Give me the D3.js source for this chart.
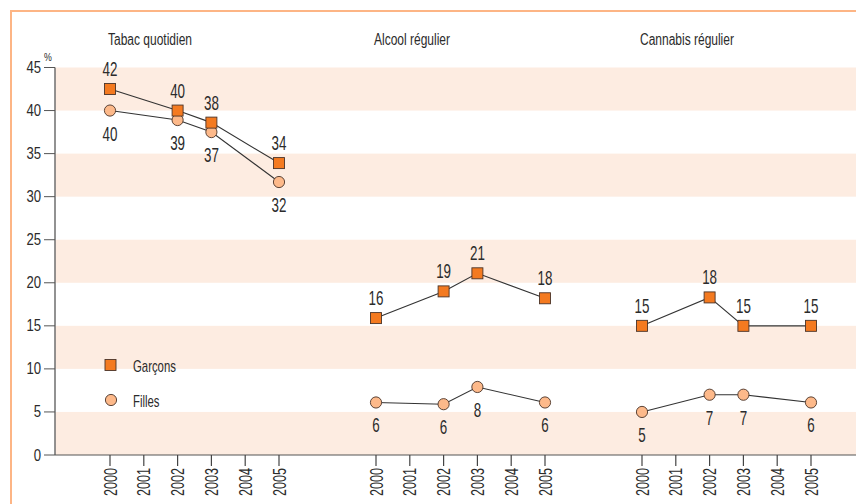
<!DOCTYPE html>
<html><head><meta charset="utf-8">
<script src="https://cdn.jsdelivr.net/npm/d3@7"></script>
<style>
html,body{margin:0;padding:0;background:#fff;}
svg{display:block;}
text{font-family:"Liberation Sans",Arial,sans-serif;fill:#2b2b2b;}
</style></head>
<body>
<svg id="chart" width="856" height="504"></svg>
<script>
const panels = ["Tabac quotidien", "Alcool régulier", "Cannabis régulier"];
const years = [2000, 2001, 2002, 2003, 2004, 2005];
const dataYears = [2000, 2002, 2003, 2005];
const seriesNames = ["Garçons", "Filles"];
const yTicks = [0, 5, 10, 15, 20, 25, 30, 35, 40, 45];

const tabacGarcons = [42.5, 40.0, 38.6, 33.9];
const tabacFilles = [40.0, 38.9, 37.5, 31.7];
const alcoolGarcons = [15.9, 19.0, 21.1, 18.2];
const alcoolFilles = [6.1, 5.9, 7.9, 6.1];
const cannabisGarcons = [15.0, 18.3, 15.0, 15.0];
const cannabisFilles = [5.0, 7.0, 7.0, 6.1];

const tabacGarconsLabels = ["42", "40", "38", "34"];
const tabacFillesLabels = ["40", "39", "37", "32"];
const alcoolGarconsLabels = ["16", "19", "21", "18"];
const alcoolFillesLabels = ["6", "6", "8", "6"];
const cannabisGarconsLabels = ["15", "18", "15", "15"];
const cannabisFillesLabels = ["5", "7", "7", "6"];

const garcons = [tabacGarcons, alcoolGarcons, cannabisGarcons];
const filles = [tabacFilles, alcoolFilles, cannabisFilles];
const garconsLabels = [tabacGarconsLabels, alcoolGarconsLabels, cannabisGarconsLabels];
const fillesLabels = [tabacFillesLabels, alcoolFillesLabels, cannabisFillesLabels];

const W = 856, H = 504;
const svg = d3.select("#chart");
const plotLeft = 55, plotRight = 856;
const y = d3.scaleLinear().domain([0, 45]).range([455, 67.5]);
const panelX = d3.scaleLinear().domain([0, 2]).range([110, 642]);
const yearX = d3.scaleLinear().domain([2000, 2005]).range([0, 169]);
const xPos = (p, yr) => panelX(p) + yearX(yr);

const orangeSq = "#F47A20", peach = "#FDB98A", band = "#FDECE1", frame = "#FDB585";
const markerStroke = "#4a3328";

// condensed text helper
function ctext(sel, x, yy, str, size, sx, anchor, rot) {
  return sel.append("text")
    .attr("transform", `translate(${x},${yy})` + (rot ? ` rotate(${rot})` : "") + ` scale(${sx},1)`)
    .attr("font-size", size)
    .attr("text-anchor", anchor || "start")
    .text(str);
}

// background bands
const bandStarts = [0, 10, 20, 30, 40];
svg.selectAll("rect.band").data(bandStarts).enter().append("rect")
  .attr("class", "band")
  .attr("x", plotLeft).attr("width", plotRight - plotLeft)
  .attr("y", d => y(d + 5)).attr("height", d => y(d) - y(d + 5))
  .attr("fill", band);

// frame lines (top and left)
svg.append("line").attr("x1", 11).attr("x2", W).attr("y1", 11).attr("y2", 11)
  .attr("stroke", frame).attr("stroke-width", 2);
svg.append("line").attr("x1", 11).attr("x2", 11).attr("y1", 10).attr("y2", H)
  .attr("stroke", frame).attr("stroke-width", 2);

// y axis
svg.append("line").attr("x1", plotLeft).attr("x2", plotLeft).attr("y1", y(45)).attr("y2", y(0))
  .attr("stroke", "#777").attr("stroke-width", 1.6);
const yt = svg.append("g");
yTicks.forEach(v => {
  yt.append("line").attr("x1", 44).attr("x2", plotLeft).attr("y1", y(v)).attr("y2", y(v))
    .attr("stroke", "#555").attr("stroke-width", 1);
  ctext(yt, 41, y(v) + 5.5, String(v), 16, 0.82, "end");
});
ctext(svg, 44, 61, "%", 11, 0.8, "start");

// x axis
svg.append("line").attr("x1", plotLeft).attr("x2", plotRight).attr("y1", y(0)).attr("y2", y(0))
  .attr("stroke", "#555").attr("stroke-width", 1.2);
panels.forEach((p, i) => {
  years.forEach(yr => {
    const x = xPos(i, yr);
    svg.append("line").attr("x1", x).attr("x2", x).attr("y1", y(0)).attr("y2", y(0) + 11)
      .attr("stroke", "#444").attr("stroke-width", 1.2);
    ctext(svg, x + 6.5, y(0) + 13, String(yr), 18, 0.7, "end", -90);
  });
  // panel title
  ctext(svg, xPos(i, 2000) - 2, 45, p, 16, 0.75, "start");
});

// series
const line = d3.line();
panels.forEach((p, i) => {
  const g = svg.append("g");
  const ptsG = dataYears.map((yr, k) => [xPos(i, yr), y(garcons[i][k])]);
  const ptsF = dataYears.map((yr, k) => [xPos(i, yr), y(filles[i][k])]);
  g.append("path").attr("d", line(ptsG)).attr("fill", "none").attr("stroke", "#333").attr("stroke-width", 1.1);
  g.append("path").attr("d", line(ptsF)).attr("fill", "none").attr("stroke", "#333").attr("stroke-width", 1.1);
  ptsF.forEach(([cx, cy], k) => {
    g.append("circle").attr("cx", cx).attr("cy", cy).attr("r", 5.6)
      .attr("fill", peach).attr("stroke", markerStroke).attr("stroke-width", 0.9);
    ctext(g, cx, cy + 30, fillesLabels[i][k], 20, 0.67, "middle");
  });
  ptsG.forEach(([cx, cy], k) => {
    g.append("rect").attr("x", cx - 5.5).attr("y", cy - 5.5).attr("width", 11).attr("height", 11)
      .attr("fill", orangeSq).attr("stroke", markerStroke).attr("stroke-width", 0.9);
    ctext(g, cx, cy - 13, garconsLabels[i][k], 20, 0.67, "middle");
  });
});

// legend
const lg = svg.append("g");
lg.append("rect").attr("x", 105).attr("y", 359.5).attr("width", 11).attr("height", 11)
  .attr("fill", orangeSq).attr("stroke", markerStroke).attr("stroke-width", 0.9);
ctext(lg, 133, 372, seriesNames[0], 16, 0.71, "start");
lg.append("circle").attr("cx", 111).attr("cy", 400).attr("r", 5.6)
  .attr("fill", peach).attr("stroke", markerStroke).attr("stroke-width", 0.9);
ctext(lg, 133, 407, seriesNames[1], 16, 0.71, "start");
</script>
</body></html>
